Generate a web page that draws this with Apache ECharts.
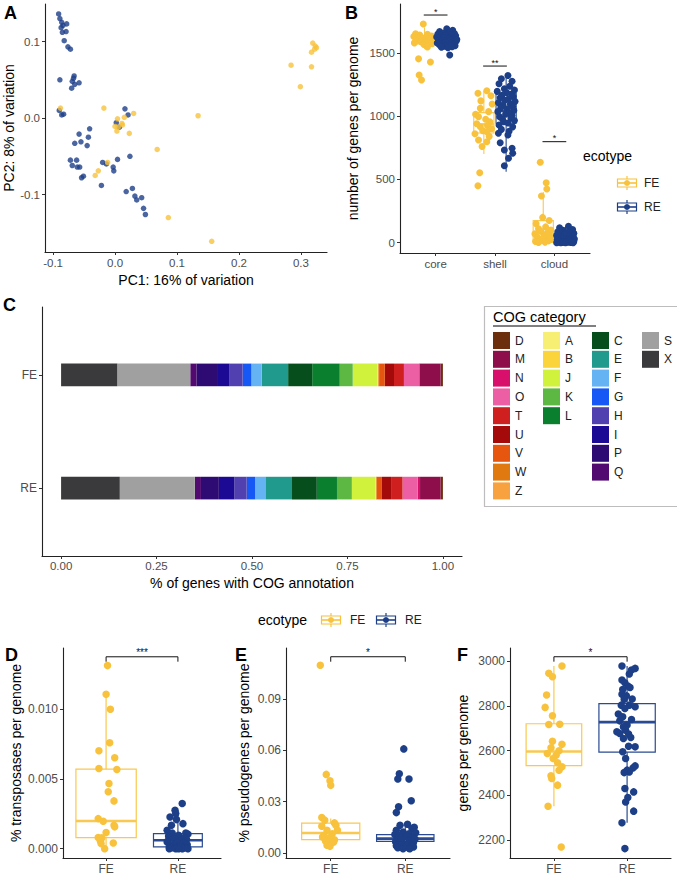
<!DOCTYPE html>
<html><head><meta charset="utf-8">
<script src="https://cdn.jsdelivr.net/npm/echarts@6/dist/echarts.min.js"></script>
<style>html,body{margin:0;padding:0;background:#fff}#c{width:677px;height:878px}</style>
</head><body><div id="c"></div>
<script>
// ================= DATA =================
const ecotypes = ['FE', 'RE'];
// Panel A: PCA coordinates [PC1, PC2]
const pcaFE = [[-0.088,0.013],[-0.018,0.013],[0.004,-0.001],[0.000,-0.011],[0.005,-0.012],[0.003,-0.017],[0.011,-0.007],[0.012,-0.009],[0.015,0.001],[0.030,0.006],[0.023,-0.020],[0.068,-0.041],[0.134,0.003],[0.086,-0.130],[0.156,-0.161],[-0.012,-0.058],[-0.027,-0.069],[-0.032,-0.075],[0.319,0.098],[0.323,0.094],[0.325,0.092],[0.322,0.090],[0.317,0.086],[0.284,0.069],[0.317,0.067],[0.299,0.041]];
const pcaRE = [[-0.091,0.136],[-0.089,0.130],[-0.086,0.125],[-0.084,0.121],[-0.078,0.123],[-0.087,0.118],[-0.085,0.112],[-0.079,0.113],[-0.082,0.101],[-0.076,0.093],[-0.072,0.090],[-0.089,0.050],[-0.066,0.055],[-0.069,0.048],[-0.070,0.039],[-0.065,0.044],[-0.058,0.046],[-0.067,0.052],[-0.090,0.010],[-0.086,0.004],[-0.083,0.005],[-0.041,-0.014],[-0.058,-0.021],[-0.043,-0.025],[-0.055,-0.031],[-0.065,-0.033],[-0.045,-0.036],[-0.072,-0.055],[-0.062,-0.055],[-0.069,-0.062],[-0.061,-0.064],[-0.057,-0.064],[-0.051,-0.076],[-0.054,-0.078],[-0.022,-0.088],[-0.020,-0.058],[-0.014,-0.060],[-0.003,-0.064],[-0.002,-0.069],[0.004,-0.054],[0.016,0.012],[0.021,0.004],[0.002,-0.006],[0.007,-0.012],[0.024,-0.050],[0.018,-0.096],[0.028,-0.092],[0.032,-0.102],[0.035,-0.107],[0.043,-0.104],[0.046,-0.118],[0.049,-0.126]];
const pcaXTicks = [-0.1, 0, 0.1, 0.2, 0.3];
const pcaXLabels = ['-0.1', '0.0', '0.1', '0.2', '0.3'];
const pcaYTicks = [-0.1, 0, 0.1];
const pcaYLabels = ['-0.1', '0.0', '0.1'];

// Panel B: genes per genome by pangenome partition
const partitions = ['core', 'shell', 'cloud'];
const coreFE = [1727,1650,1645,1640,1632,1628,1622,1618,1612,1608,1603,1600,1597,1592,1588,1583,1578,1572,1565,1545,1452,1427,1325,1285];
const coreRE = [1690,1678,1668,1662,1656,1652,1648,1645,1641,1638,1635,1632,1629,1626,1623,1620,1618,1615,1612,1609,1606,1603,1600,1598,1595,1592,1589,1586,1583,1580,1577,1574,1571,1568,1565,1562,1558,1555,1551,1547,1543,1540,1625,1605,1483];
const shellFE = [1200,1180,1160,1120,1095,1061,1035,1015,995,975,955,940,925,916,900,885,877,860,840,811,798,760,553,450];
const shellRE = [1320,1295,1275,1255,1235,1215,1205,1195,1185,1175,1165,1155,1145,1135,1125,1115,1105,1095,1085,1075,1065,1055,1045,1035,1025,1015,1005,995,985,975,965,955,945,930,915,895,880,864,851,790,746,732,706,667,608];
const cloudFE = [635,474,424,369,200,175,150,125,110,100,90,80,70,60,52,45,38,30,25,20,15,10,5,2];
const cloudRE = [130,118,105,98,92,86,80,75,70,66,62,58,55,52,49,46,43,40,38,36,34,32,30,28,26,24,22,20,18,16,14,12,10,9,8,7,6,5,4,3,2,1,0,0,0];
// box statistics [lower whisker, Q1, median, Q3, upper whisker] per partition
const boxB_FE = [[1530,1570,1600,1630,1700],[700,866,935,1027,1200],[0,20,80,175,400]];
const boxB_RE = [[1540,1575,1610,1645,1690],[560,943,1040,1180,1320],[0,10,30,60,130]];
const sigB = ['*', '**', '*'];
const sigB_Y = [1798, 1395, 798];
const bYTicks = [0, 500, 1000, 1500];

// Panel C: COG category proportions
const cogLevels = ['D','M','N','O','T','U','V','W','Z','A','B','J','K','L','C','E','F','G','H','I','P','Q','S','X'];
const cogColors = ['#6B2F0E','#8E0D4B','#D8106B','#EC5FA4','#CF1F1F','#A50A0A','#E6560E','#E07A10','#F7A23E','#F7EE74','#FBD33A','#D1F23C','#5DB843','#0A7F2E','#064F1C','#209A8C','#66B3F3','#1558F5','#5040B0','#1D0A94','#2E0A73','#520A70','#A0A0A0','#3A3A3C'];
const cogFE = [0.006,0.054,0.002,0.040,0.026,0.024,0.015,0.002,0.001,0.001,0.001,0.064,0.034,0.072,0.063,0.069,0.027,0.023,0.034,0.033,0.054,0.016,0.191,0.147];
const cogRE = [0.006,0.054,0.006,0.040,0.030,0.024,0.013,0.002,0.001,0.001,0.001,0.061,0.039,0.053,0.065,0.070,0.027,0.022,0.032,0.041,0.047,0.016,0.197,0.154];
const cogXTicks = [0, 0.25, 0.5, 0.75, 1];
const cogXLabels = ['0.00', '0.25', '0.50', '0.75', '1.00'];
const cogLegendColumns = [['D','M','N','O','T','U','V','W','Z'],['A','B','J','K','L'],['C','E','F','G','H','I','P','Q'],['S','X']];

// Panel D: % transposases per genome
const transFE = [0.01311,0.01105,0.00998,0.00758,0.00701,0.00651,0.00574,0.00567,0.00467,0.00407,0.00342,0.00215,0.00196,0.00167,0.00156,0.00115,0.00079,0.00077,0.00055,0.00041,0.00036,0.0];
const transRE = [0.00323,0.00275,0.00251,0.00227,0.00208,0.00179,0.00167,0.00132,0.00112,0.00112,0.00104,0.00096,0.0009,0.00084,0.00078,0.00072,0.00066,0.0006,0.00055,0.0005,0.00048,0.00044,0.00041,0.00036,0.00032,0.00028,0.00024,0.0002,0.00017,0.00012,0.0001,0.00007,0.00007,0.00004,0.00002,0,0,0,0,0];
const transBox = [[0,0.00079,0.00198,0.00569,0.01105],[0,0.00012,0.0006,0.00108,0.0025]];
const transYTicks = [0, 0.005, 0.01];
const transYLabels = ['0.000', '0.005', '0.010'];
// Panel E: % pseudogenes per genome
const pseudoFE = [0.1096,0.0459,0.0422,0.0395,0.0207,0.0192,0.0176,0.0162,0.0156,0.0133,0.0133,0.0113,0.0104,0.0094,0.0090,0.0078,0.0070,0.0064,0.0059,0.0045,0.0039];
const pseudoRE = [0.0608,0.0463,0.0432,0.0432,0.0305,0.0270,0.0236,0.0168,0.0162,0.0150,0.0143,0.0133,0.0123,0.0118,0.0113,0.0108,0.0104,0.0098,0.0094,0.0090,0.0086,0.0082,0.0078,0.0074,0.0070,0.0066,0.0062,0.0059,0.0055,0.0051,0.0048,0.0045,0.0042,0.0039,0.0035,0.0031,0.0028,0.0025,0.0025];
const pseudoBox = [[0.004,0.0078,0.0117,0.0175,0.0201],[0.0025,0.0068,0.0084,0.0108,0.0168]];
const pseudoYTicks = [0, 0.03, 0.06, 0.09];
const pseudoYLabels = ['0.00', '0.03', '0.06', '0.09'];
// Panel F: genes per genome
const genesFE = [2978,2945,2930,2848,2793,2756,2717,2718,2642,2628,2613,2599,2587,2580,2565,2546,2528,2513,2488,2476,2446,2352,2170];
const genesRE = [2978,2960,2967,2942,2915,2903,2888,2882,2873,2852,2845,2830,2829,2803,2803,2796,2788,2763,2751,2739,2733,2714,2707,2691,2684,2677,2674,2659,2654,2620,2617,2595,2565,2532,2523,2513,2505,2502,2431,2416,2391,2371,2330,2278,2163];
const genesBox = [[2352,2533,2596,2720,2978],[2278,2593,2727,2810,2978]];
const genesYTicks = [2200, 2400, 2600, 2800, 3000];

// jitter offsets (horizontal)
const jitCoreFE = [-0.02,-0.15,0.05,-0.08,0.12,-0.18,0.02,0.14,-0.11,0.08,-0.04,0.16,-0.14,0.10,-0.06,0.03,-0.17,0.13,-0.01,0.05,-0.10,0.10,-0.09,-0.05];
const jitCoreRE = [0.00,0.10,-0.12,0.05,-0.05,0.13,-0.15,0.02,0.08,-0.09,0.15,-0.02,0.11,-0.13,0.04,-0.07,0.14,-0.04,0.09,-0.11,0.01,0.12,-0.14,0.06,-0.06,0.16,-0.10,0.03,0.10,-0.03,-0.16,0.07,-0.08,0.12,0.00,-0.12,0.05,0.14,-0.05,0.09,-0.09,0.02,-0.17,0.17,0.05];
const jitShellFE = [0.05,-0.10,0.12,-0.05,0.14,-0.06,0.08,-0.14,-0.09,0.03,0.10,-0.12,0.06,-0.06,0.13,-0.02,0.05,-0.15,0.09,-0.09,0.05,-0.03,-0.07,-0.10];
const jitShellRE = [0.03,-0.08,0.10,-0.12,0.06,-0.03,0.14,-0.15,0.01,0.09,-0.07,0.12,-0.10,0.04,-0.02,0.15,-0.13,0.07,-0.05,0.11,-0.09,0.02,0.13,-0.14,0.06,-0.01,0.10,-0.11,0.08,-0.06,0.14,-0.04,0.03,-0.12,0.11,-0.08,0.05,-0.13,0.03,-0.10,0.10,-0.03,0.11,0.04,-0.03];
const jitCloudFE = [-0.05,0.05,0.06,-0.03,-0.01,0.10,-0.12,0.04,-0.08,0.13,-0.04,0.08,-0.14,0.02,0.11,-0.10,0.06,-0.06,0.14,-0.02,0.09,-0.13,0.03,-0.08];
const jitCloudRE = [0.05,-0.10,0.12,-0.04,0.08,-0.13,0.02,0.14,-0.07,0.10,-0.01,-0.15,0.06,0.13,-0.09,0.03,-0.05,0.11,-0.12,0.07,0.0,-0.08,0.15,-0.03,0.09,-0.14,0.04,0.12,-0.06,0.01,-0.11,0.08,0.14,-0.02,-0.10,0.06,0.11,-0.13,0.03,-0.05,0.09,-0.08,0.0,0.13,-0.15];
const jitTransFE = [0.02,0,0.06,0.05,-0.10,0.12,-0.10,0.15,0.04,0.03,0.11,-0.11,-0.04,0.11,0.12,0,-0.11,-0.06,-0.08,0.10,-0.07,-0.02];
const jitTransRE = [0.06,-0.04,-0.03,-0.11,-0.02,0.07,-0.09,-0.15,-0.08,0.11,0.14,0.01,-0.13,-0.12,0.09,-0.05,0.12,0.05,-0.14,0.02,-0.15,0.08,-0.01,0.08,-0.06,0.13,-0.10,0.03,0.04,-0.12,0.10,0.11,-0.08,-0.03,0.07,-0.12,-0.03,0.06,0.01,0.14];
const jitPseudoFE = [-0.14,-0.06,-0.01,0,-0.12,-0.08,0.05,0.07,-0.12,0.09,-0.05,0.02,-0.09,-0.11,-0.01,0.05,-0.07,0.04,0.01,-0.05,-0.01];
const jitPseudoRE = [-0.02,-0.08,-0.10,0.05,0.08,-0.09,-0.12,0.03,-0.07,0.12,0.09,-0.12,-0.03,0.14,0.05,-0.14,-0.09,0,0.08,0.1,-0.05,0.13,-0.11,-0.05,0.06,-0.13,0.11,-0.07,0.03,0.01,-0.09,0.09,-0.12,0,0.11,-0.1,0.05,-0.03,0.06];
const jitGenesFE = [0.11,-0.07,-0.02,-0.10,-0.12,-0.02,-0.07,0.08,-0.02,0.11,-0.04,0.07,-0.09,0.03,-0.01,0.05,0.11,0.07,-0.04,-0.03,0.05,-0.08,0.10];
const jitGenesRE = [-0.07,0.06,0.11,0.03,-0.07,-0.03,0.01,0.04,-0.06,-0.07,-0.01,0.07,-0.04,-0.08,0.03,0.11,-0.03,-0.12,-0.06,0.06,-0.10,0,-0.05,-0.02,-0.14,-0.10,0.02,0.05,-0.05,0.02,0.11,-0.06,-0.02,0.11,0.08,0,0.03,-0.04,-0.03,0.09,0.01,-0.02,0.09,-0.07,-0.03];

// ================= STYLE =================
const FONT = '"Liberation Sans", Arial, Helvetica, sans-serif';
const FE_COL = '#F8C23C', RE_COL = '#1D3F88';
const FE_BOX = '#F9C850', RE_BOX = '#2A4B93';

function axis(gi, min, max, ticks, labels, o) {
  o = o || {};
  const a = {
    type: 'value', gridIndex: gi, min: min, max: max,
    axisLine: {show: true, onZero: false, lineStyle: {color: '#222', width: 1.1}},
    axisTick: {show: true, length: 3, lineStyle: {color: '#333', width: 1}, customValues: ticks},
    axisLabel: {show: true, customValues: ticks, color: '#4D4D4D', fontSize: o.fs || 11.5, fontFamily: FONT, margin: o.margin == null ? 5 : o.margin,
      formatter: function (v) { const i = ticks.findIndex(t => Math.abs(t - v) < 1e-9); return i >= 0 ? labels[i] : ''; }},
    splitLine: {show: false}
  };
  if (o.name) {
    a.name = o.name; a.nameLocation = 'middle'; a.nameGap = o.nameGap;
    a.nameTextStyle = {color: '#000', fontSize: 14, fontFamily: FONT};
  }
  return a;
}

function boxSeries(gi, centers, stats, halfW, color, lw) {
  return {
    type: 'custom', xAxisIndex: gi, yAxisIndex: gi, z: 2, silent: true,
    data: stats.map((s, i) => [centers[i]].concat(s)),
    encode: {x: 0, y: [1, 2, 3, 4, 5]},
    renderItem: function (p, api) {
      const x = api.value(0), lo = api.value(1), q1 = api.value(2), md = api.value(3), q3 = api.value(4), hi = api.value(5);
      const tl = api.coord([x - halfW, q3]), br = api.coord([x + halfW, q1]);
      const mL = api.coord([x - halfW, md]), mR = api.coord([x + halfW, md]);
      const h = api.coord([x, hi]), t = api.coord([x, q3]), b = api.coord([x, q1]), l = api.coord([x, lo]);
      const st = {stroke: color, lineWidth: lw, fill: null};
      return {type: 'group', children: [
        {type: 'line', shape: {x1: h[0], y1: h[1], x2: t[0], y2: t[1]}, style: st},
        {type: 'line', shape: {x1: b[0], y1: b[1], x2: l[0], y2: l[1]}, style: st},
        {type: 'rect', shape: {x: tl[0], y: tl[1], width: br[0] - tl[0], height: br[1] - tl[1]}, style: {stroke: color, lineWidth: lw, fill: 'rgba(255,255,255,0)'}},
        {type: 'line', shape: {x1: mL[0], y1: mL[1], x2: mR[0], y2: mR[1]}, style: {stroke: color, lineWidth: lw * 2.2}}
      ]};
    }
  };
}

function pts(gi, center, vals, jit, color, size) {
  return {type: 'scatter', xAxisIndex: gi, yAxisIndex: gi, z: 4, silent: true, symbolSize: size,
    itemStyle: {color: color, opacity: 1},
    data: vals.map((v, i) => [center + (jit[i] || 0), v])};
}

function bracket(gi, xs, ys, legs, labels, half, fs) {
  return {type: 'custom', xAxisIndex: gi, yAxisIndex: gi, z: 5, silent: true,
    data: xs.map((x, i) => [x, ys[i], legs[i]]),
    encode: {x: 0, y: [1, 2]},
    renderItem: function (p, api) {
      const x = api.value(0), y = api.value(1), yl = api.value(2);
      const a = api.coord([x - half, yl]), b = api.coord([x - half, y]), c = api.coord([x + half, y]), d = api.coord([x + half, yl]);
      return {type: 'group', children: [
        {type: 'polyline', shape: {points: [a, b, c, d]}, style: {stroke: '#111', lineWidth: 1, fill: null}},
        {type: 'text', x: (b[0] + c[0]) / 2, y: b[1] + 1, style: {text: labels[p.dataIndex], align: 'center', verticalAlign: 'bottom', fontSize: fs, fill: '#111', fontFamily: FONT}}
      ]};
    }};
}

// ================= BUILD =================
const grids = [
  {left: 45, top: 4, width: 282, height: 248},     // A
  {left: 400, top: 4, width: 190, height: 249},    // B
  {left: 42, top: 307, width: 420, height: 249},   // C
  {left: 63, top: 648, width: 158, height: 210},   // D
  {left: 286, top: 648, width: 164, height: 210},  // E
  {left: 510, top: 648, width: 161, height: 210}   // F
];

const xAxes = [
  axis(0, -0.113, 0.342, pcaXTicks, pcaXLabels, {name: 'PC1: 16% of variation', nameGap: 21, margin: 5}),
  axis(1, -0.6, 2.6, [0, 1, 2], partitions, {margin: 5}),
  axis(2, -0.05, 1.05, cogXTicks, cogXLabels, {name: '% of genes with COG annotation', nameGap: 20, margin: 4}),
  axis(3, 0.4, 2.6, [1, 2], ecotypes, {fs: 12, margin: 5}),
  axis(4, 0.4, 2.6, [1, 2], ecotypes, {fs: 12, margin: 5}),
  axis(5, 0.4, 2.6, [1, 2], ecotypes, {fs: 12, margin: 5})
];
const yAxes = [
  axis(0, -0.175, 0.149, pcaYTicks, pcaYLabels, {name: 'PC2: 8% of variation', nameGap: 24}),
  axis(1, -81, 1885, bYTicks, bYTicks.map(String), {name: 'number of genes per genome', nameGap: 40}),
  axis(2, 0.4, 2.6, [1, 2], ['RE', 'FE'], {fs: 12}),
  axis(3, -0.00067, 0.01437, transYTicks, transYLabels, {name: '% transposases per genome', nameGap: 40, fs: 12}),
  axis(4, -0.0029, 0.1197, pseudoYTicks, pseudoYLabels, {name: '% pseudogenes per genome', nameGap: 35, fs: 12}),
  axis(5, 2121, 3058, genesYTicks, genesYTicks.map(String), {name: 'genes per genome', nameGap: 40, fs: 12})
];

const series = [];
// A
series.push({type: 'scatter', xAxisIndex: 0, yAxisIndex: 0, symbolSize: 5.5, itemStyle: {color: RE_COL}, data: pcaRE, silent: true});
series.push({type: 'scatter', xAxisIndex: 0, yAxisIndex: 0, symbolSize: 5.5, itemStyle: {color: FE_COL}, data: pcaFE, silent: true});
// B
const dodge = 0.1875;
series.push(boxSeries(1, [0 - dodge, 1 - dodge, 2 - dodge], boxB_FE, 0.17, FE_BOX, 1.1));
series.push(boxSeries(1, [0 + dodge, 1 + dodge, 2 + dodge], boxB_RE, 0.17, RE_BOX, 1.1));
[[coreFE, jitCoreFE], [shellFE, jitShellFE], [cloudFE, jitCloudFE]].forEach((g, i) => series.push(pts(1, i - dodge, g[0], g[1], FE_COL, 7)));
[[coreRE, jitCoreRE], [shellRE, jitShellRE], [cloudRE, jitCloudRE]].forEach((g, i) => series.push(pts(1, i + dodge, g[0], g[1], RE_COL, 7)));
series.push(bracket(1, [0, 1, 2], sigB_Y, sigB_Y, sigB, 0.2, 9));
// C: stacked proportion bars, drawn left to right in reverse level order
const stackOrder = cogLevels.map((_, i) => i).reverse();
const totFE = cogFE.reduce((a, b) => a + b, 0), totRE = cogRE.reduce((a, b) => a + b, 0);
let cumFE = 0, cumRE = 0;
const segs = {};
stackOrder.forEach(i => {
  const fe0 = cumFE; cumFE += cogFE[i] / totFE;
  const re0 = cumRE; cumRE += cogRE[i] / totRE;
  segs[i] = [[fe0, cumFE, 2], [re0, cumRE, 1]];
});
cogLevels.forEach((lev, i) => {
  series.push({type: 'custom', name: lev, xAxisIndex: 2, yAxisIndex: 2, z: 2,
    itemStyle: {color: cogColors[i]}, data: segs[i], encode: {x: [0, 1], y: 2},
    renderItem: function (p, api) {
      const s = api.coord([api.value(0), api.value(2) + 0.1]);
      const e = api.coord([api.value(1), api.value(2) - 0.1]);
      return {type: 'rect', shape: {x: s[0], y: s[1], width: e[0] - s[0], height: e[1] - s[1]}, style: {fill: cogColors[i]}};
    }});
});
// D, E, F
[[3, transFE, transRE, jitTransFE, jitTransRE, transBox, [0.42, 0.34], 0.01374, 0.01339, '***'],
 [4, pseudoFE, pseudoRE, jitPseudoFE, jitPseudoRE, pseudoBox, [0.39, 0.385], 0.1146, 0.1117, '*'],
 [5, genesFE, genesRE, jitGenesFE, jitGenesRE, genesBox, [0.38, 0.385], 3019, 2997, '*']].forEach(c => {
  const gi = c[0];
  series.push(boxSeries(gi, [1], [c[5][0]], c[6][0], FE_BOX, 1.2));
  series.push(boxSeries(gi, [2], [c[5][1]], c[6][1], RE_BOX, 1.2));
  series.push(pts(gi, 1, c[1], c[3], FE_COL, 7.5));
  series.push(pts(gi, 2, c[2], c[4], RE_COL, 7.5));
  series.push(bracket(gi, [1.5], [c[7]], [c[8]], [c[9]], 0.5, 10));
});

// legend key glyph (box + whiskers + point)
function keyIcon(cx, cy, col) {
  const st = {stroke: col, lineWidth: 1.2, fill: null};
  return [
    {type: 'line', shape: {x1: cx, y1: cy - 7, x2: cx, y2: cy - 4}, style: st},
    {type: 'line', shape: {x1: cx, y1: cy + 4, x2: cx, y2: cy + 7}, style: st},
    {type: 'rect', shape: {x: cx - 9.5, y: cy - 4, width: 19, height: 8}, style: {stroke: col, lineWidth: 1.2, fill: '#fff'}},
    {type: 'line', shape: {x1: cx - 9.5, y1: cy, x2: cx + 9.5, y2: cy}, style: {stroke: col, lineWidth: 1.6}},
    {type: 'circle', shape: {cx: cx, cy: cy, r: 3}, style: {fill: col}}
  ];
}
function txt(x, y, s, fs, o) {
  o = o || {};
  return {type: 'text', x: x, y: y, style: {text: s, fontSize: fs, fontFamily: FONT, fill: o.fill || '#000', fontWeight: o.bold ? 'bold' : 'normal', align: o.align || 'left', verticalAlign: o.va || 'middle'}};
}

const graphics = [
  txt(4, 4, 'A', 18, {bold: true, va: 'top'}),
  txt(345, 4, 'B', 18, {bold: true, va: 'top'}),
  txt(3, 296, 'C', 18, {bold: true, va: 'top'}),
  txt(5, 646, 'D', 18, {bold: true, va: 'top'}),
  txt(235, 646, 'E', 18, {bold: true, va: 'top'}),
  txt(457, 646, 'F', 18, {bold: true, va: 'top'}),
  // B legend
  txt(583, 156, 'ecotype', 14),
  txt(644, 183, 'FE', 12, {fill: '#222'}),
  txt(644, 207, 'RE', 12, {fill: '#222'}),
  // bottom legend
  txt(258, 620, 'ecotype', 14),
  txt(350, 620, 'FE', 12, {fill: '#222'}),
  txt(405, 620, 'RE', 12, {fill: '#222'}),
  // COG legend frame + title
  {type: 'rect', shape: {x: 484.5, y: 306.5, width: 200, height: 200}, style: {fill: null, stroke: '#BDBDBD', lineWidth: 1.2}},
  txt(493, 317, 'COG category', 14.5),
  {type: 'line', shape: {x1: 493, y1: 326, x2: 596, y2: 326}, style: {stroke: '#000', lineWidth: 1}}
].concat(keyIcon(627, 183, FE_COL), keyIcon(627, 207, RE_COL), keyIcon(331, 620, FE_COL), keyIcon(386, 620, RE_COL));

const legendLeft = [493, 543, 592, 642];
const legends = cogLegendColumns.map((col, i) => ({
  orient: 'vertical', left: legendLeft[i], top: 332, padding: 0,
  itemWidth: 17, itemHeight: 17, itemGap: 1.8, icon: 'rect', selectedMode: false,
  data: col, textStyle: {fontSize: 12, color: '#222', fontFamily: FONT}
}));

const chart = echarts.init(document.getElementById('c'), null, {renderer: 'svg'});
chart.setOption({
  animation: false,
  backgroundColor: '#fff',
  textStyle: {fontFamily: FONT},
  grid: grids,
  xAxis: xAxes,
  yAxis: yAxes,
  legend: legends,
  series: series,
  graphic: {elements: graphics}
});
</script>
</body></html>
